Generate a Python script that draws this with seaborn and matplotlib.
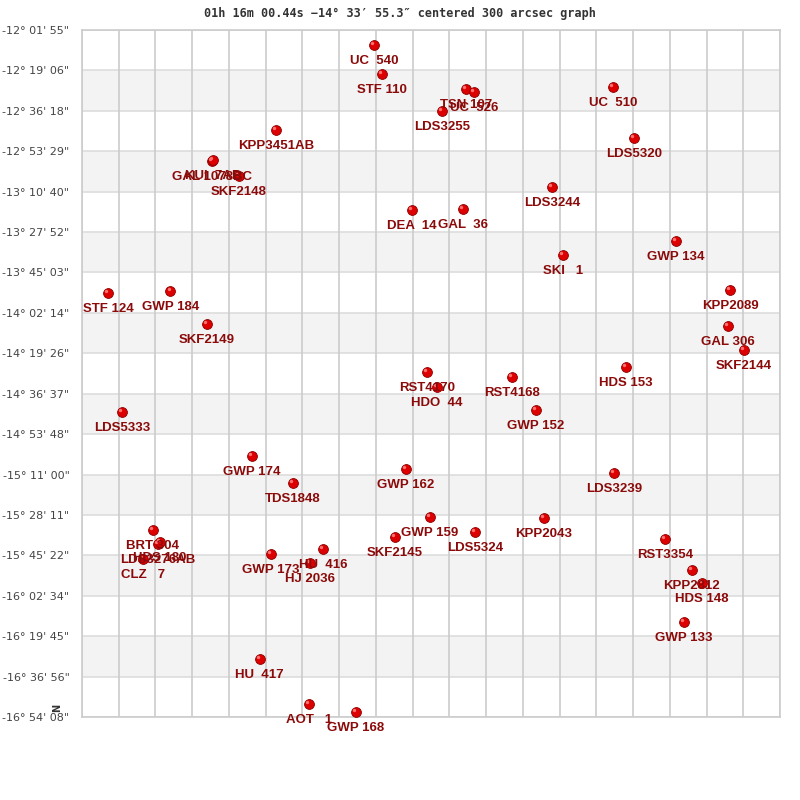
import numpy as np
import pandas as pd
import seaborn as sns
import matplotlib.pyplot as plt
import matplotlib.transforms as mtransforms


# star names, ra offset (grid columns), declination (degrees)
names = [
    "UC  540", "STF 110", "TSN 107", "UC  526", "LDS3255", "UC  510", "LDS5320",
    "KPP3451AB", "GAL 1078BC", "KUI  7AB", "SKF2148", "STF 124", "GWP 184",
    "SKF2149", "DEA  14", "GAL  36", "LDS3244", "SKI   1", "GWP 134", "KPP2089",
    "GAL 306", "SKF2144", "HDS 153", "RST4168", "GWP 152", "RST4170", "HDO  44",
    "LDS5333", "GWP 174", "TDS1848", "GWP 162", "LDS3239", "GWP 159", "KPP2043",
    "LDS5324", "SKF2145", "RST3354", "BRT 304", "LDS3276AB", "HDS 180", "CLZ   7",
    "HU  416", "HJ 2036", "GWP 173", "KPP2812", "HDS 148", "GWP 133", "HU  417",
    "AOT   1", "GWP 168",
]
ra_col = [
    7.95, 8.17, 10.45, 10.67, 9.80, 14.45, 15.02,
    5.28, 3.54, 3.57, 4.27, 0.71, 2.40,
    3.40, 8.98, 10.37, 12.79, 13.09, 16.17, 17.64,
    17.58, 18.02, 14.81, 11.70, 12.36, 9.39, 9.66,
    1.09, 4.63, 5.74, 8.82, 14.48, 9.47, 12.57,
    10.70, 8.52, 15.87, 1.93, 2.07, 2.12, 1.66,
    6.56, 6.21, 5.14, 16.60, 16.88, 16.39, 4.84,
    6.18, 7.46,
]
dec_deg = [
    -12.138, -12.344, -12.450, -12.471, -12.606, -12.436, -12.798,
    -12.741, -12.961, -12.954, -13.067, -13.896, -13.882,
    -14.116, -13.308, -13.301, -13.145, -13.627, -13.528, -13.875,
    -14.130, -14.300, -14.421, -14.492, -14.726, -14.456, -14.563,
    -14.740, -15.052, -15.243, -15.144, -15.172, -15.484, -15.491,
    -15.591, -15.626, -15.640, -15.577, -15.676, -15.662, -15.782,
    -15.711, -15.810, -15.747, -15.860, -15.952, -16.229, -16.491,
    -16.810, -16.867,
]

# declination ticks
tick_labels = [
    "-12° 01' 55\"", "-12° 19' 06\"", "-12° 36' 18\"", "-12° 53' 29\"",
    "-13° 10' 40\"", "-13° 27' 52\"", "-13° 45' 03\"", "-14° 02' 14\"",
    "-14° 19' 26\"", "-14° 36' 37\"", "-14° 53' 48\"", "-15° 11' 00\"",
    "-15° 28' 11\"", "-15° 45' 22\"", "-16° 02' 34\"", "-16° 19' 45\"",
    "-16° 36' 56\"", "-16° 54' 08\"",
]
dec_top = -(12 + 1 / 60 + 55 / 3600)
dec_step = 1031.35 / 3600
tick_vals = [dec_top - i * dec_step for i in range(len(tick_labels))]
n_cols = 19

stars = pd.DataFrame({"name": names, "ra": ra_col, "dec": dec_deg})

sns.set_style("white")
plt.rcParams["font.family"] = ["Liberation Sans", "DejaVu Sans"]

fig = plt.figure(figsize=(8, 8), dpi=100)
ax = fig.add_axes([82 / 800, 1 - 717 / 800, 698 / 800, 687 / 800])

# alternating bands
for i in range(len(tick_vals) - 1):
    if i % 2 == 1:
        ax.axhspan(tick_vals[i + 1], tick_vals[i], color="#f3f3f3", lw=0, zorder=0)
for v in tick_vals:
    ax.axhline(v, color="#dddddd", lw=1.2, zorder=1)
for c in range(n_cols + 1):
    ax.axvline(c, color="#cccccc", lw=1.2, zorder=1)

# stars: ball plus small highlight
sns.scatterplot(data=stars, x="ra", y="dec", s=50, color="#dd0000",
                edgecolor="#8a0000", linewidth=0.6, ax=ax, zorder=3, legend=False)
hl = mtransforms.offset_copy(ax.transData, fig=fig, x=-1.2, y=1.2, units="points")
ax.scatter(stars["ra"], stars["dec"], s=6, color="#ff7070", lw=0,
           transform=hl, zorder=4)

for _, r in stars.iterrows():
    ax.annotate(r["name"], (r["ra"], r["dec"]), xytext=(0, -16),
                textcoords="offset pixels", ha="center", va="center",
                fontsize=9.5, fontweight="bold", color="#8b0a0a",
                annotation_clip=False, zorder=5)

ax.set_xlim(0, n_cols)
ax.set_ylim(tick_vals[-1], tick_vals[0])
ax.set_xticks([])
ax.set_yticks(tick_vals)
ax.set_yticklabels(tick_labels, family="DejaVu Sans", fontsize=8, color="#444444")
ax.tick_params(axis="y", length=0, pad=9)
ax.set_xlabel("")
ax.set_ylabel("")
for s in ax.spines.values():
    s.set_color("#cccccc")
    s.set_linewidth(1.2)

fig.text(0.5, 1 - 13 / 800, "01h 16m 00.44s −14° 33′ 55.3″ centered 300 arcsec graph",
         ha="center", va="center", family="DejaVu Sans Mono", fontweight="bold",
         fontsize=8.5, color="#333333")
fig.text(57 / 800, 1 - 708 / 800, "N", rotation=90, ha="center", va="center",
         family="DejaVu Sans", fontweight="bold", fontsize=7, color="#333333")

fig.savefig("out.png", dpi=100)
